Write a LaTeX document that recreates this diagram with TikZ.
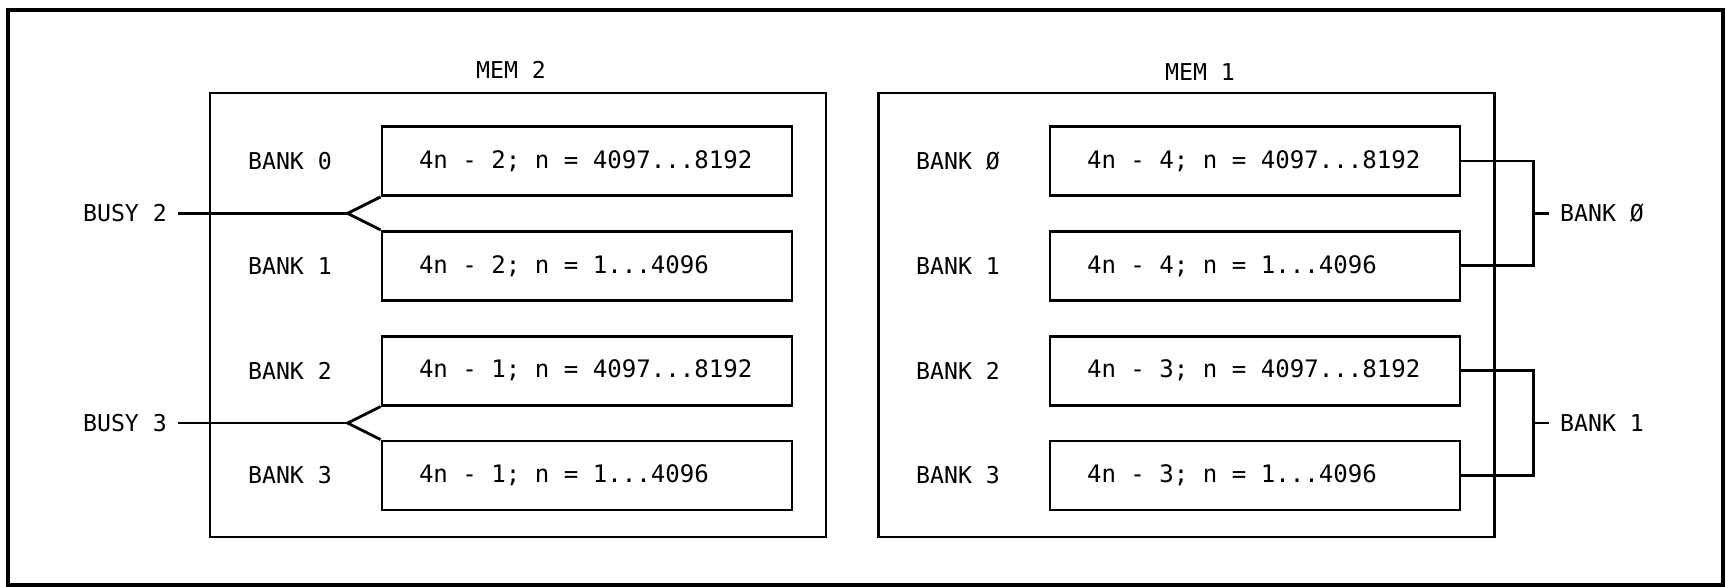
\documentclass[tikz,border=0pt]{standalone}
\usepackage{fontspec}
\newfontfamily\bankfont{DejaVu Sans Mono}
\usetikzlibrary{positioning,calc}
\newcommand{\rangetext}[1]{\makebox[3.36cm][l]{#1}}

\begin{document}
\begin{tikzpicture}[
  node distance=0.33cm and 0.38cm,
  every node/.style={font=\bankfont\fontsize{6.6}{8}\selectfont},
  membox/.style ={rectangle,draw,line width=0.8pt,minimum width=6.16cm,minimum height=4.44cm},
  bankbox/.style={rectangle,draw,line width=0.8pt,minimum width=4.10cm,minimum height=0.69cm,
                  font=\bankfont\fontsize{6.85}{8}\selectfont},
  lbl/.style={inner sep=0.1cm},
  wire/.style={line width=0.8pt},
]
\useasboundingbox (0,0) rectangle (17.26,-5.87);
\draw[line width=1.2pt] (0.08,-0.10) rectangle (17.23,-5.85);
% MEM 2
\node[membox] (mem2) at (5.18,-3.15) {};
\node[lbl] (mem2t) at (5.11,-0.70) {MEM 2};
\node[bankbox] (m2b0) at (5.87,-1.61) {\rangetext{4n - 2; n = 4097...8192}};
\node[bankbox, below=of m2b0] (m2b1) {\rangetext{4n - 2; n = 1...4096}};
\node[bankbox, below=of m2b1] (m2b2) {\rangetext{4n - 1; n = 4097...8192}};
\node[bankbox, below=of m2b2] (m2b3) {\rangetext{4n - 1; n = 1...4096}};
\node[lbl, left=of m2b0] (m2l0) {BANK 0};
\node[lbl, left=of m2b1] (m2l1) {BANK 1};
\node[lbl, left=of m2b2] (m2l2) {BANK 2};
\node[lbl, left=of m2b3] (m2l3) {BANK 3};
% MEM 1
\node[membox] (mem1) at (11.865,-3.15) {};
\node[lbl] (mem1t) at (12.00,-0.72) {MEM 1};
\node[bankbox] (m1b0) at (12.55,-1.61) {\rangetext{4n - 4; n = 4097...8192}};
\node[bankbox, below=of m1b0] (m1b1) {\rangetext{4n - 4; n = 1...4096}};
\node[bankbox, below=of m1b1] (m1b2) {\rangetext{4n - 3; n = 4097...8192}};
\node[bankbox, below=of m1b2] (m1b3) {\rangetext{4n - 3; n = 1...4096}};
\node[lbl, left=of m1b0] (m1l0) {BANK Ø};
\node[lbl, left=of m1b1] (m1l1) {BANK 1};
\node[lbl, left=of m1b2] (m1l2) {BANK 2};
\node[lbl, left=of m1b3] (m1l3) {BANK 3};
% busy lines
\coordinate (f2) at ($(m2b0.south west)!0.5!(m2b1.north west)+(-0.33,0)$);
\coordinate (f3) at ($(m2b2.south west)!0.5!(m2b3.north west)+(-0.33,0)$);
\node[lbl, left=1.70cm of f2] (busy2) {BUSY 2};
\node[lbl, left=1.70cm of f3] (busy3) {BUSY 3};
\draw[wire] (busy2) -- (f2);
\draw[wire] (m2b0.south west) -- (f2) -- (m2b1.north west);
\draw[wire] (busy3) -- (f3);
\draw[wire] (m2b2.south west) -- (f3) -- (m2b3.north west);
% bank brackets
\coordinate (j0) at ($(m1b0.east)!0.5!(m1b1.east)+(0.72,0)$);
\coordinate (j1) at ($(m1b2.east)!0.5!(m1b3.east)+(0.72,0)$);
\draw[wire] (m1b0.east) -| (j0) |- (m1b1.east);
\draw[wire] (m1b2.east) -| (j1) |- (m1b3.east);
\node[lbl, right=0.16cm of j0] (rb0) {BANK Ø};
\node[lbl, right=0.16cm of j1] (rb1) {BANK 1};
\draw[wire] (j0) -- (rb0);
\draw[wire] (j1) -- (rb1);
\end{tikzpicture}
\end{document}
